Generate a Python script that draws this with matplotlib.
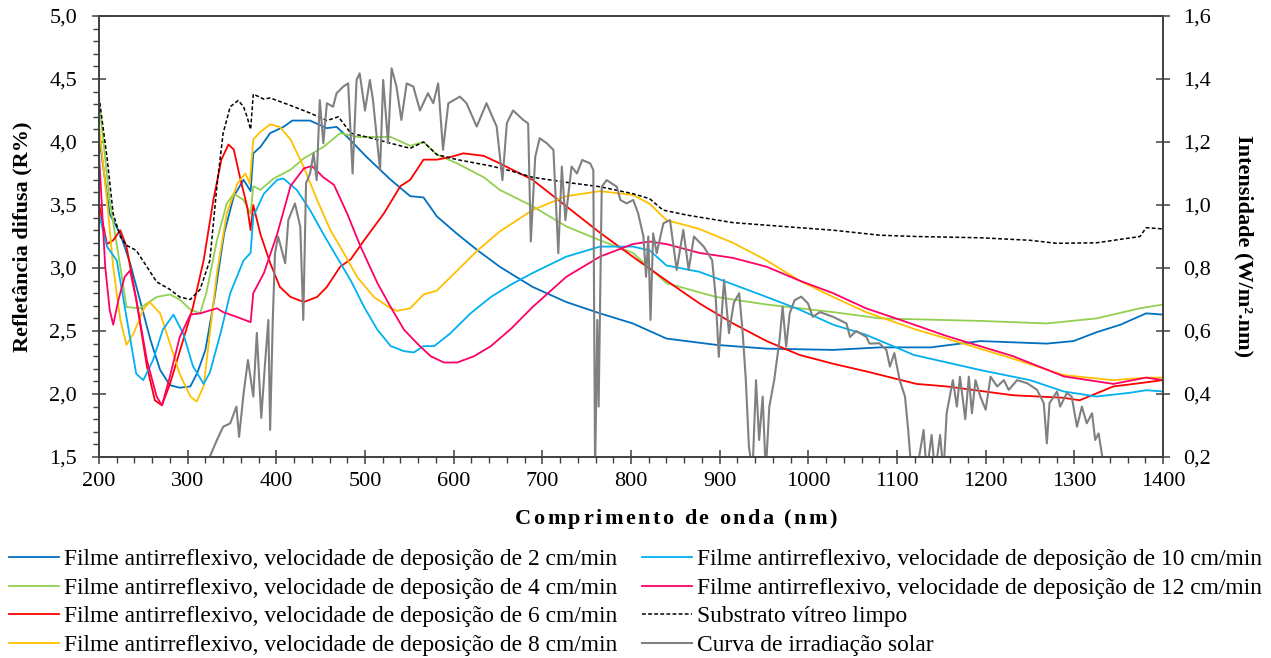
import matplotlib
matplotlib.use("Agg")
import matplotlib.pyplot as plt
from matplotlib.ticker import MultipleLocator, FuncFormatter

plt.rcParams['font.family'] = ['Liberation Serif', 'DejaVu Serif']

# ---- data ----
wl_sub = [200, 209, 216, 224, 231, 242, 254, 265, 280, 291, 303, 314, 325, 333, 340, 348, 357, 363, 367, 371,
          374, 386, 393, 416, 438, 457, 470, 484, 502, 529, 551, 566, 581, 604, 642, 665, 689, 727, 765, 802,
          821, 836, 863, 915, 971, 1028, 1081, 1122, 1194, 1250, 1280, 1325, 1374, 1381, 1400]
r_sub = [4.36, 3.88, 3.43, 3.25, 3.18, 3.14, 3.01, 2.89, 2.83, 2.77, 2.75, 2.83, 3.06, 3.65, 4.07, 4.28, 4.33, 4.28, 4.20, 4.10,
         4.38, 4.34, 4.35, 4.29, 4.23, 4.17, 4.20, 4.07, 4.04, 3.99, 3.95, 4.00, 3.90, 3.86, 3.81, 3.77, 3.72, 3.68, 3.645, 3.59,
         3.55, 3.46, 3.42, 3.36, 3.33, 3.30, 3.26, 3.25, 3.24, 3.22, 3.196, 3.20, 3.25, 3.32, 3.31]

wl_2 = [200, 212, 224, 235, 246, 258, 269, 280, 291, 303, 311, 320, 330, 341, 352, 363, 371, 374, 382, 393,
        408, 418, 438, 457, 468, 480, 502, 529, 551, 566, 581, 604, 627, 652, 689, 727, 765, 802, 840, 896,
        953, 1028, 1081, 1138, 1194, 1269, 1299, 1325, 1352, 1381, 1400]
r_2 = [4.05, 3.43, 3.27, 3.04, 2.75, 2.43, 2.19, 2.07, 2.05, 2.06, 2.17, 2.35, 2.75, 3.27, 3.57, 3.70, 3.61, 3.91, 3.96, 4.07,
       4.12, 4.17, 4.17, 4.11, 4.12, 4.04, 3.88, 3.70, 3.57, 3.56, 3.41, 3.27, 3.14, 3.01, 2.85, 2.73, 2.64, 2.56, 2.44, 2.39,
       2.36, 2.35, 2.37, 2.37, 2.42, 2.40, 2.42, 2.49, 2.55, 2.64, 2.63]

wl_4 = [200, 212, 224, 231, 246, 265, 280, 291, 303, 314, 321, 333, 344, 352, 363, 371, 374, 382, 397, 416,
        431, 453, 472, 491, 529, 551, 566, 581, 604, 634, 652, 689, 727, 765, 802, 840, 896, 953, 1028, 1081,
        1194, 1269, 1325, 1374, 1400]
r_4 = [4.33, 3.54, 3.01, 2.69, 2.68, 2.77, 2.79, 2.75, 2.67, 2.64, 2.80, 3.22, 3.51, 3.59, 3.54, 3.43, 3.65, 3.62, 3.71, 3.78,
       3.87, 3.96, 4.07, 4.04, 4.04, 3.97, 4.00, 3.90, 3.83, 3.72, 3.62, 3.49, 3.33, 3.22, 3.12, 2.88, 2.77, 2.71, 2.65, 2.60,
       2.58, 2.56, 2.60, 2.68, 2.71]

wl_6 = [200, 209, 216, 224, 231, 242, 254, 263, 271, 280, 295, 306, 318, 329, 338, 346, 352, 359, 367, 371,
        374, 382, 393, 404, 416, 431, 446, 457, 472, 484, 499, 521, 540, 551, 566, 581, 596, 611, 634, 652,
        689, 727, 765, 802, 840, 877, 915, 953, 990, 1028, 1065, 1122, 1156, 1231, 1288, 1306, 1344, 1367, 1400]
r_6 = [3.51, 3.19, 3.22, 3.30, 3.17, 2.75, 2.22, 1.95, 1.91, 2.08, 2.43, 2.69, 3.06, 3.54, 3.86, 3.98, 3.94, 3.72, 3.49, 3.30,
       3.50, 3.27, 3.04, 2.85, 2.77, 2.73, 2.77, 2.85, 3.01, 3.07, 3.22, 3.43, 3.65, 3.70, 3.86, 3.86, 3.88, 3.91, 3.89, 3.83,
       3.70, 3.49, 3.28, 3.09, 2.90, 2.72, 2.56, 2.42, 2.31, 2.24, 2.18, 2.08, 2.06, 1.99, 1.97, 1.95, 2.06, 2.08, 2.11]

wl_8 = [200, 209, 216, 224, 231, 239, 250, 257, 269, 280, 291, 303, 310, 318, 325, 333, 344, 356, 365, 370,
        374, 382, 393, 404, 416, 431, 446, 461, 476, 491, 510, 529, 536, 551, 566, 581, 604, 627, 652, 689,
        727, 765, 802, 821, 840, 877, 915, 953, 990, 1028, 1065, 1122, 1156, 1231, 1288, 1344, 1381, 1400]
r_8 = [4.13, 3.54, 3.01, 2.59, 2.39, 2.48, 2.67, 2.73, 2.64, 2.40, 2.16, 1.98, 1.94, 2.06, 2.48, 2.96, 3.43, 3.67, 3.75, 3.67,
       4.02, 4.08, 4.14, 4.12, 4.02, 3.80, 3.54, 3.30, 3.12, 2.93, 2.77, 2.68, 2.66, 2.68, 2.79, 2.82, 2.98, 3.14, 3.29, 3.46,
       3.57, 3.61, 3.58, 3.51, 3.38, 3.31, 3.20, 3.06, 2.90, 2.77, 2.65, 2.51, 2.44, 2.28, 2.15, 2.11, 2.13, 2.13]

wl_10 = [200, 209, 220, 231, 242, 250, 261, 272, 284, 295, 306, 318, 325, 337, 348, 363, 371, 374, 386, 401,
         408, 423, 438, 453, 468, 484, 499, 514, 529, 544, 555, 566, 578, 596, 619, 642, 665, 689, 727, 765,
         802, 821, 840, 877, 915, 953, 990, 1028, 1065, 1119, 1194, 1250, 1288, 1325, 1363, 1381, 1400]
r_10 = [3.43, 3.17, 3.06, 2.61, 2.16, 2.11, 2.27, 2.51, 2.63, 2.48, 2.22, 2.08, 2.17, 2.48, 2.80, 3.06, 3.12, 3.41, 3.59, 3.70,
        3.71, 3.62, 3.46, 3.27, 3.09, 2.90, 2.69, 2.51, 2.38, 2.34, 2.33, 2.38, 2.38, 2.48, 2.64, 2.77, 2.87, 2.96, 3.09, 3.17,
        3.17, 3.14, 3.02, 2.97, 2.87, 2.77, 2.67, 2.55, 2.47, 2.31, 2.19, 2.11, 2.02, 1.98, 2.01, 2.03, 2.02]

wl_12 = [200, 207, 212, 216, 222, 229, 235, 242, 254, 265, 271, 280, 291, 303, 314, 333, 340, 356, 371, 374,
         386, 401, 416, 431, 440, 453, 465, 480, 495, 514, 529, 544, 559, 574, 589, 604, 623, 642, 665, 689,
         727, 765, 802, 821, 840, 877, 915, 953, 990, 1028, 1065, 1103, 1156, 1231, 1288, 1344, 1381, 1400]
r_12 = [3.91, 3.01, 2.67, 2.55, 2.75, 2.93, 2.98, 2.75, 2.27, 1.98, 1.91, 2.14, 2.45, 2.63, 2.64, 2.68, 2.65, 2.61, 2.57, 2.80,
        2.96, 3.27, 3.65, 3.79, 3.81, 3.72, 3.66, 3.43, 3.17, 2.88, 2.69, 2.51, 2.40, 2.30, 2.25, 2.25, 2.30, 2.38, 2.52, 2.69,
        2.93, 3.09, 3.19, 3.21, 3.19, 3.12, 3.08, 3.01, 2.90, 2.80, 2.68, 2.59, 2.46, 2.30, 2.14, 2.08, 2.13, 2.11]

wl_sun = [318, 325, 333, 340, 348, 355, 358, 363, 368, 374, 378, 383, 387, 391, 393, 396, 398.5, 402, 410, 413.5,
          421, 427, 430.4, 433.5, 438, 442, 445.5, 449, 453, 457, 464, 468, 475.5, 481, 486, 490.5, 494, 500, 505.5, 509,
          517, 520.5, 526, 530, 535.5, 541, 547, 554.5, 562, 571, 577, 582.5, 588, 594, 607, 614.5, 626, 637, 648.5, 655,
          660, 667, 678.5, 684, 687, 692, 697, 705, 712.5, 718, 722, 726, 733, 739, 745, 754, 757.5, 759.5, 762, 763.5,
          767, 772.5, 784, 788, 795, 802.5, 808, 814, 817, 819.5, 822, 825, 829, 836.5, 844, 851.5, 859, 865, 871, 882,
          891.5, 895.5, 899, 905, 910.5, 916, 922, 926, 929.5, 933, 937, 941, 944.5, 948.5, 952, 956, 961.5, 967.5,
          971, 975, 979, 984.5, 992, 999.5, 1005, 1013, 1028, 1043, 1047, 1054, 1065.5, 1069, 1080, 1088, 1092, 1097,
          1103, 1109, 1112.6, 1116.4, 1122, 1130, 1133.5, 1139, 1143, 1148.6, 1152.4, 1156, 1163, 1167.5, 1171, 1177,
          1181, 1184.5, 1188.5, 1194, 1200, 1205.5, 1213, 1220.5, 1226, 1235.5, 1247, 1258, 1265.5, 1269, 1272, 1280.5,
          1284, 1291.5, 1297, 1303, 1308.5, 1314, 1320, 1323.5, 1327.4, 1331, 1335, 1340]
i_sun = [0.17, 0.201, 0.254, 0.296, 0.307, 0.36, 0.264, 0.40, 0.508, 0.392, 0.594, 0.324, 0.487, 0.635, 0.286, 0.635, 0.847, 0.90, 0.815, 0.952,
         1.005, 0.931, 0.635, 1.069, 1.10, 1.164, 1.079, 1.333, 1.196, 1.323, 1.312, 1.355, 1.376, 1.386, 1.10, 1.397, 1.418, 1.30, 1.397, 1.333,
         1.111, 1.397, 1.196, 1.434, 1.376, 1.27, 1.386, 1.376, 1.30, 1.355, 1.323, 1.386, 1.175, 1.323, 1.344, 1.323, 1.249, 1.323, 1.249, 1.079,
         1.26, 1.30, 1.27, 1.259, 0.884, 1.153, 1.212, 1.196, 1.175, 0.847, 1.122, 0.952, 1.122, 1.10, 1.143, 1.132, 1.111, 0.15, 0.635, 0.36,
         1.058, 1.079, 1.058, 1.016, 1.005, 1.016, 0.974, 0.90, 0.772, 0.90, 0.635, 0.91, 0.847, 0.942, 0.952, 0.794, 0.921, 0.794, 0.90, 0.868,
         0.825, 0.709, 0.518, 0.762, 0.593, 0.69, 0.72, 0.593, 0.444, 0.233, 0.15, 0.444, 0.254, 0.392, 0.15, 0.36, 0.444, 0.571,
         0.677, 0.55, 0.656, 0.698, 0.709, 0.688, 0.645, 0.66, 0.645, 0.624, 0.581, 0.60, 0.581, 0.56, 0.561, 0.54, 0.487, 0.53,
         0.444, 0.392, 0.286, 0.15, 0.15, 0.286, 0.15, 0.27, 0.15, 0.27, 0.15, 0.339, 0.444, 0.36, 0.455, 0.32,
         0.455, 0.339, 0.444, 0.392, 0.35, 0.455, 0.424, 0.444, 0.413, 0.444, 0.434, 0.413, 0.371, 0.243, 0.371, 0.408,
         0.36, 0.403, 0.392, 0.296, 0.36, 0.307, 0.339, 0.254, 0.275, 0.21, 0.15, 0.10]

films = [
    (wl_2, r_2, '#0070C0', 'Filme antirreflexivo, velocidade de deposição de 2 cm/min'),
    (wl_4, r_4, '#92D050', 'Filme antirreflexivo, velocidade de deposição de 4 cm/min'),
    (wl_6, r_6, '#FF0000', 'Filme antirreflexivo, velocidade de deposição de 6 cm/min'),
    (wl_8, r_8, '#FFC000', 'Filme antirreflexivo, velocidade de deposição de 8 cm/min'),
    (wl_10, r_10, '#00B0F0', 'Filme antirreflexivo, velocidade de deposição de 10 cm/min'),
    (wl_12, r_12, '#FF0066', 'Filme antirreflexivo, velocidade de deposição de 12 cm/min'),
]

W, H = 1271, 658
fig = plt.figure(figsize=(W / 100, H / 100), dpi=100)
ax = fig.add_axes([99 / W, 1 - 457 / H, (1163 - 99) / W, (457 - 16) / H])
ax2 = ax.twinx()

handles = []
for wl, r, col, lab in films:
    h, = ax.plot(wl, r, color=col, lw=1.3, label=lab)
    handles.append(h)
h, = ax.plot(wl_sub, r_sub, color='black', lw=1.1, ls=(0, (2.5, 1.5)), label='Substrato vítreo limpo')
handles.append(h)
h, = ax2.plot(wl_sun, i_sun, color='#808080', lw=1.5, label='Curva de irradiação solar')
handles.append(h)

comma = FuncFormatter(lambda v, p: f'{v:.1f}'.replace('.', ','))
ax.set_xlim(200, 1400)
ax.set_ylim(1.5, 5.0)
ax2.set_ylim(0.2, 1.6)
ax.xaxis.set_major_locator(MultipleLocator(100))
ax.xaxis.set_minor_locator(MultipleLocator(20))
ax.yaxis.set_major_locator(MultipleLocator(0.5))
ax.yaxis.set_minor_locator(MultipleLocator(0.1))
ax.yaxis.set_major_formatter(comma)
ax2.yaxis.set_major_locator(MultipleLocator(0.2))
ax2.yaxis.set_major_formatter(comma)

spine_col = '#404040'
for a in (ax, ax2):
    for s in a.spines.values():
        s.set_color(spine_col)
        s.set_linewidth(1.2)
ax.tick_params(axis='both', which='major', direction='inout', length=9.5, width=1.1,
               color=spine_col, labelsize=16)
ax.tick_params(axis='both', which='minor', direction='out', length=4.2, width=1.0, color=spine_col)
ax.tick_params(axis='y', which='major', pad=11)
ax.tick_params(axis='x', which='major', pad=6)
ax2.tick_params(axis='y', which='major', direction='inout', length=9.5, width=1.1,
                color=spine_col, labelsize=16, pad=10)

# x title with wide letter spacing: place each character
xlabel = 'Comprimento de onda (nm)'
renderer = fig.canvas.get_renderer()
probe = fig.text(0, 0, '', fontsize=16, fontweight='bold')


def text_w(s):
    if not s:
        return 0.0
    probe.set_text(s)
    return probe.get_window_extent(renderer).width


total_natural = text_w(xlabel)
extra = (322 - total_natural) / (len(xlabel) - 1)
x0 = 676 - 322 / 2
for i, ch in enumerate(xlabel):
    if ch == ' ':
        continue
    xp = x0 + text_w(xlabel[:i] + '|') - text_w('|') + i * extra
    fig.text(xp / W, 1 - 519 / H, ch, ha='left', va='center', fontsize=16, fontweight='bold')
probe.remove()

fig.text(22 / W, 1 - 237 / H, 'Refletância difusa (R%)', ha='center', va='center',
         rotation=90, fontsize=16, fontweight='bold')
fig.text(1244 / W, 1 - 246 / H, 'Intensidade (W/m².nm)', ha='center', va='center',
         rotation=270, fontsize=16, fontweight='bold')

leg_kw = dict(frameon=False, fontsize=16.9, handlelength=2.15, handletextpad=0.2,
              labelspacing=0.3, borderpad=0, borderaxespad=0, loc='upper left')
fig.legend(handles[:4], [h.get_label() for h in handles[:4]],
           bbox_to_anchor=(9 / W, 1 - 549 / H), **leg_kw)
fig.legend(handles[4:], [h.get_label() for h in handles[4:]],
           bbox_to_anchor=(642 / W, 1 - 549 / H), **leg_kw)

fig.savefig('out.png', dpi=100)
